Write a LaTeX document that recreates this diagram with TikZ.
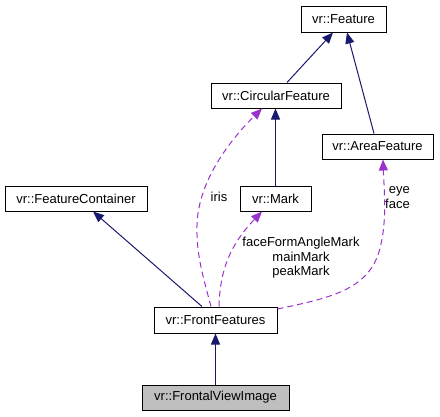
\documentclass[tikz,border=0pt]{standalone}
\usepackage{fontspec}
\setmainfont{Liberation Sans}
\usetikzlibrary{arrows.meta}
\definecolor{inh}{RGB}{25,25,112}
\definecolor{dep}{RGB}{154,50,205}
\definecolor{cur}{RGB}{191,191,191}
\begin{document}
\begin{tikzpicture}[x=1pt,y=-1pt,
  cls/.style={draw=black,line width=1pt,fill=white,inner sep=0pt,
    font=\fontsize{13}{15}\selectfont},
  inhline/.style={draw=inh,line width=1pt,-{Triangle[length=11pt,width=9pt]},color=inh},
  depline/.style={draw=dep,line width=1pt,dash pattern=on 6pt off 4pt,
    -{Triangle[length=11pt,width=9pt]},color=dep},
  lbl/.style={inner sep=0pt,font=\fontsize{13}{14.5}\selectfont,align=center}]
\useasboundingbox (0,0) rectangle (440,416);
\node[cls,minimum width=85pt,minimum height=26pt] (feat) at (343.5,19) {vr::Feature};
\node[cls,minimum width=130pt,minimum height=25pt] (cf) at (276,95.5) {vr::CircularFeature};
\node[cls,minimum width=111pt,minimum height=25pt] (af) at (377.5,146.5) {vr::AreaFeature};
\node[cls,minimum width=142pt,minimum height=25pt] (fc) at (76,198.5) {vr::FeatureContainer};
\node[cls,minimum width=71pt,minimum height=25pt] (mark) at (275.5,198.5) {vr::Mark};
\node[cls,minimum width=123pt,minimum height=26pt] (ff) at (215.5,320) {vr::FrontFeatures};
\node[cls,fill=cur,minimum width=147pt,minimum height=25pt] (fvi) at (215.5,397.5) {vr::FrontalViewImage};

\draw[inhline] ([xshift=11pt]cf.north) -- ([xshift=-10.5pt]feat.south);
\draw[inhline] ([xshift=-3.5pt]af.north) -- ([xshift=3.5pt]feat.south);
\draw[inhline] (mark.north) -- (mark.north |- cf.south);
\draw[inhline] ([xshift=-13.5pt]ff.north) -- ([xshift=17pt]fc.south);
\draw[inhline] (fvi.north) -- (ff.south);

\draw[depline] ([xshift=-4.5pt]ff.north) .. controls (204,280) and (196,255) .. (197,225)
  .. controls (198,185) and (225,145) .. ([xshift=-14pt]cf.south);
\draw[depline] ([xshift=3.5pt]ff.north) .. controls (220,270) and (230,245) .. ([xshift=-13.5pt]mark.south);
\draw[depline] ([yshift=11pt]ff.east) .. controls (330,298) and (365,290) .. (378,255)
  .. controls (388,225) and (384,190) .. ([xshift=5.5pt]af.south);

\node[lbl] (liris) at (219,197) {iris};
\node[lbl] (lmark) at (301,258) {faceFormAngleMark\\mainMark\\peakMark};
\node[lbl,align=right,anchor=east] (leye) at (410,197.5) {eye\\face};
\end{tikzpicture}
\end{document}
